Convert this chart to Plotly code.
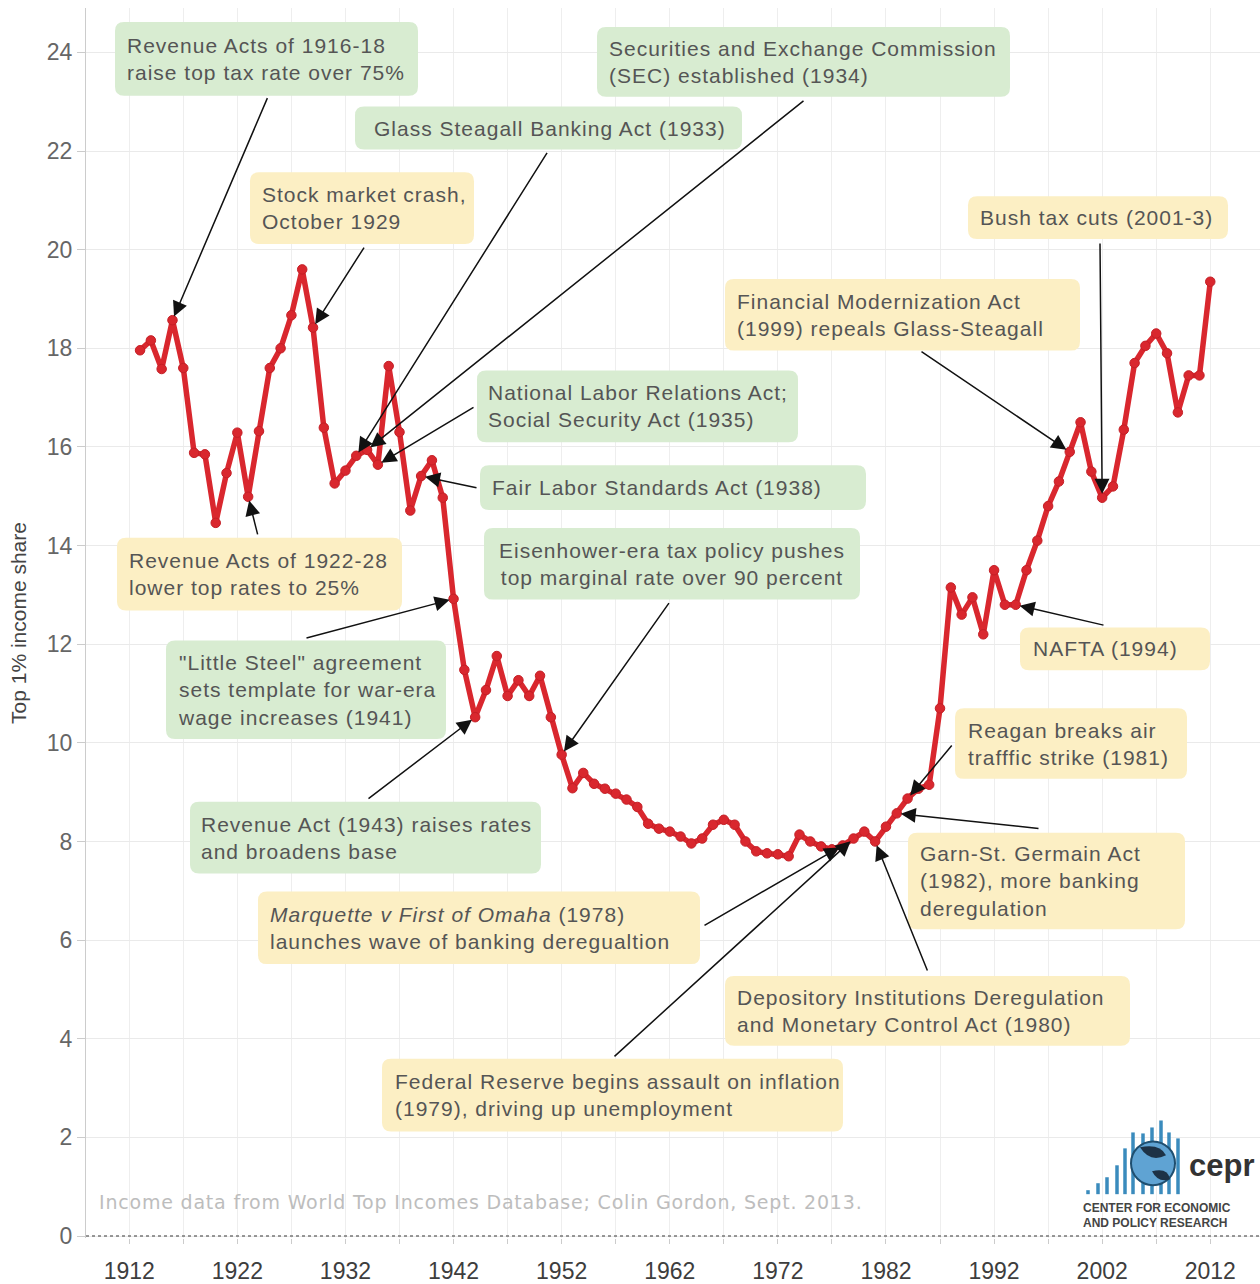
import plotly.graph_objects as go

# ---- data: top 1% income share (%), USA ----
years = list(range(1913, 2013))
top1_share = [
    17.96, 18.16, 17.58, 18.57, 17.60, 15.88, 15.85, 14.46, 15.47, 16.29,
    14.99, 16.32, 17.60, 18.00, 18.67, 19.60, 18.42, 16.39, 15.26, 15.52,
    15.82, 15.94, 15.64, 17.64, 16.30, 14.71, 15.41, 15.73, 14.97, 12.92,
    11.48, 10.52, 11.07, 11.76, 10.95, 11.27, 10.95, 11.36, 10.52, 9.76,
    9.08, 9.39, 9.17, 9.07, 8.97, 8.85, 8.70, 8.36, 8.26, 8.20,
    8.10, 7.96, 8.06, 8.34, 8.44, 8.34, 8.00, 7.80, 7.76, 7.74,
    7.70, 8.14, 8.00, 7.90, 7.84, 7.92, 8.06, 8.20, 8.00, 8.30,
    8.57, 8.87, 9.07, 9.15, 10.70, 13.15, 12.60, 12.95, 12.20, 13.50,
    12.80, 12.80, 13.50, 14.10, 14.80, 15.30, 15.90, 16.50, 15.50, 14.97,
    15.20, 16.35, 17.70, 18.05, 18.30, 17.90, 16.70, 17.45, 17.45, 19.35,
]
x_tick_years = list(range(1912, 2013, 10))
y_ticks = list(range(0, 25, 2))

# ---- canvas geometry ----
W, H = 1260, 1284
ML, MR, MT, MB = 86, 0, 8, 41
PW, PH = W - ML - MR, H - MT - MB
X_RANGE = [1908.0, 2016.6]
Y_RANGE = [-0.04, 24.9]


def px(x):
    return (x - ML) / PW


def py(y):
    return (H - MB - y) / PH


def to_xdata(x):
    return X_RANGE[0] + px(x) * (X_RANGE[1] - X_RANGE[0])


def to_ydata(y):
    return Y_RANGE[0] + py(y) * (Y_RANGE[1] - Y_RANGE[0])


def rounded_box(x0, y0, x1, y1, r=9):
    X = lambda v: f"{px(v):.5f}"
    Y = lambda v: f"{py(v):.5f}"
    return (f"M {X(x0 + r)},{Y(y0)} L {X(x1 - r)},{Y(y0)} Q {X(x1)},{Y(y0)} {X(x1)},{Y(y0 + r)} "
            f"L {X(x1)},{Y(y1 - r)} Q {X(x1)},{Y(y1)} {X(x1 - r)},{Y(y1)} L {X(x0 + r)},{Y(y1)} "
            f"Q {X(x0)},{Y(y1)} {X(x0)},{Y(y1 - r)} L {X(x0)},{Y(y0 + r)} Q {X(x0)},{Y(y0)} {X(x0 + r)},{Y(y0)} Z")


GREEN = "#d8ecd1"
YELLOW = "#fcefc4"
TEXT = "#555555"
SP = "letter-spacing:1px"


def spaced(*lines):
    return "<br>".join(f"<span style='{SP}'>{ln}</span>" for ln in lines)


# callouts: box (pixels), fill, text, text anchor x, alignment, event year, arrow tail (pixels)
notes = [
    ((115, 22, 418, 96), GREEN, spaced("Revenue Acts of 1916-18", "raise top tax rate over 75%"), 125, "left", 1916, (268, 97)),
    ((597, 27, 1010, 97), GREEN, spaced("Securities and Exchange Commission", "(SEC) established (1934)"), 607, "left", 1934, (805, 100)),
    ((355, 107, 742, 150), GREEN, spaced("Glass Steagall Banking Act (1933)"), 372, "left", 1933, (548, 152)),
    ((250, 173, 474, 245), YELLOW, spaced("Stock market crash,", "October 1929"), 260, "left", 1929, (365, 247)),
    ((968, 197, 1228, 240), YELLOW, spaced("Bush tax cuts (2001-3)"), 978, "left", 2002, (1100, 243)),
    ((725, 280, 1080, 352), YELLOW, spaced("Financial Modernization Act", "(1999) repeals Glass-Steagall"), 735, "left", 1999, (920, 352)),
    ((477, 372, 798, 444), GREEN, spaced("National Labor Relations Act;", "Social Security Act (1935)"), 486, "left", 1935, (475, 408)),
    ((480, 467, 866, 512), GREEN, spaced("Fair Labor Standards Act (1938)"), 490, "left", 1939, (478, 490)),
    ((117, 540, 402, 613), YELLOW, spaced("Revenue Acts of 1922-28", "lower top rates to 25%"), 127, "left", 1923, (258, 538)),
    ((484, 530, 860, 602), GREEN, spaced("Eisenhower-era tax policy pushes", "top marginal rate over 90 percent"), 672, "center", 1952, (670, 604)),
    ((166, 643, 446, 742), GREEN, spaced("\"Little Steel\" agreement", "sets template for war-era", "wage increases (1941)"), 176, "left", 1942, (305, 641)),
    ((1020, 630, 1210, 673), YELLOW, spaced("NAFTA (1994)"), 1031, "left", 1994, (1105, 628)),
    ((955, 711, 1187, 782), YELLOW, spaced("Reagan breaks air", "trafffic strike (1981)"), 966, "left", 1984, (953, 747)),
    ((190, 805, 541, 877), GREEN, spaced("Revenue Act (1943) raises rates", "and broadens base"), 199, "left", 1944, (367, 803)),
    ((908, 836, 1185, 933), YELLOW, spaced("Garn-St. Germain Act", "(1982), more banking", "deregulation"), 918, "left", 1983, (1040, 832)),
    ((258, 895, 700, 968), YELLOW, spaced("<i>Marquette v First of Omaha</i> (1978)", "launches wave of banking deregualtion"), 268, "left", 1978, (703, 930)),
    ((725, 980, 1130, 1050), YELLOW, spaced("Depository Institutions Deregulation", "and Monetary Control Act (1980)"), 735, "left", 1981, (928, 976)),
    ((382, 1063, 843, 1136), YELLOW, spaced("Federal Reserve begins assault on inflation", "(1979), driving up unemployment"), 393, "left", 1979, (613, 1062)),
]

fig = go.Figure()

fig.add_trace(go.Scatter(
    x=years, y=top1_share, mode="lines+markers",
    line=dict(color="#d9272e", width=5.5),
    marker=dict(color="#d9272e", size=9.5, line=dict(color="#c41f26", width=1)),
    hoverinfo="x+y", showlegend=False,
))

shapes = []
annotations = []

# dotted baseline at zero
shapes.append(dict(type="line", xref="paper", yref="y", x0=0, x1=1, y0=0, y1=0,
                   line=dict(color="#777777", width=1.5, dash="dot"), layer="above"))

for (x0, y0, x1, y1), fill, text, tx, align, yr, (tailx, taily) in notes:
    shapes.append(dict(type="path", xref="paper", yref="paper", path=rounded_box(x0, y0, x1, y1),
                       fillcolor=fill, line=dict(width=0), layer="above"))
    annotations.append(dict(
        xref="paper", yref="paper", x=px(tx), y=py((y0 + y1) / 2),
        xanchor="left" if align == "left" else "center", yanchor="middle",
        text=text, align=align, showarrow=False,
        font=dict(family="Liberation Sans, Arial", size=21, color=TEXT),
    ))
    annotations.append(dict(
        x=yr, y=top1_share[years.index(yr)], xref="x", yref="y",
        ax=to_xdata(tailx), ay=to_ydata(taily), axref="x", ayref="y",
        text="", showarrow=True, arrowhead=2, arrowsize=2.0, arrowwidth=1.5,
        arrowcolor="#111111", standoff=4,
    ))

# source line
annotations.append(dict(
    xref="paper", yref="paper", x=px(97), y=py(1207), xanchor="left", yanchor="middle",
    text="<span style='letter-spacing:0.8px'>Income data from World Top Incomes Database; Colin Gordon, Sept. 2013.</span>",
    showarrow=False, font=dict(family="DejaVu Sans", size=19, color="#bdbdbd"),
))

# CEPR logo
logo_bars_x = [1088, 1098, 1107, 1117, 1125, 1133, 1143, 1152, 1161, 1169, 1178]
logo_bars_top = [1195, 1188, 1182, 1170, 1153, 1137, 1138, 1132, 1125, 1137, 1143]
for bx, bt in zip(logo_bars_x, logo_bars_top):
    shapes.append(dict(type="line", xref="paper", yref="paper",
                       x0=px(bx), x1=px(bx), y0=py(1199), y1=py(bt),
                       line=dict(color="#3a8bbd", width=3.5), layer="above"))
shapes.append(dict(type="circle", xref="paper", yref="paper",
                   x0=px(1131), x1=px(1175), y0=py(1190), y1=py(1146),
                   fillcolor="#5fa3d3", line=dict(color="#1f4f70", width=2), layer="above"))
shapes.append(dict(type="path", xref="paper", yref="paper",
                   path=(f"M {px(1140)},{py(1152)} Q {px(1160)},{py(1148)} {px(1166)},{py(1160)} "
                         f"Q {px(1150)},{py(1168)} {px(1140)},{py(1152)} Z"),
                   fillcolor="#1d3246", line=dict(width=0), layer="above"))
shapes.append(dict(type="path", xref="paper", yref="paper",
                   path=(f"M {px(1152)},{py(1176)} Q {px(1168)},{py(1172)} {px(1170)},{py(1184)} "
                         f"Q {px(1158)},{py(1188)} {px(1152)},{py(1176)} Z"),
                   fillcolor="#1d3246", line=dict(width=0), layer="above"))
annotations.append(dict(xref="paper", yref="paper", x=px(1221), y=py(1170), xanchor="center", yanchor="middle",
                        text="<b>cepr</b>", showarrow=False,
                        font=dict(family="Liberation Sans, Arial", size=31, color="#333333")))
annotations.append(dict(xref="paper", yref="paper", x=px(1157), y=py(1213), xanchor="center", yanchor="middle",
                        text="<b>CENTER FOR ECONOMIC</b>", showarrow=False,
                        font=dict(family="Liberation Sans Narrow, Liberation Sans", size=12, color="#444444")))
annotations.append(dict(xref="paper", yref="paper", x=px(1155), y=py(1228), xanchor="center", yanchor="middle",
                        text="<b>AND POLICY RESEARCH</b>", showarrow=False,
                        font=dict(family="Liberation Sans Narrow, Liberation Sans", size=12, color="#444444")))

fig.update_layout(
    width=W, height=H,
    margin=dict(l=ML, r=MR, t=MT, b=MB),
    paper_bgcolor="white", plot_bgcolor="white",
    shapes=shapes, annotations=annotations,
    showlegend=False,
    xaxis=dict(
        range=X_RANGE, tickmode="array", tickvals=x_tick_years,
        ticktext=[str(y) for y in x_tick_years],
        showgrid=True, gridcolor="#eeeeee", gridwidth=1,
        minor=dict(dtick=5, tick0=1912, showgrid=True, gridcolor="#eeeeee",
                   ticks="outside", ticklen=5, tickcolor="#cccccc"),
        ticks="outside", ticklen=5, tickcolor="#cccccc",
        showline=False, zeroline=False,
        tickfont=dict(family="Liberation Sans Narrow, Liberation Sans", size=23, color="#3d3d3d"),
        ticklabelstandoff=7,
    ),
    yaxis=dict(
        range=Y_RANGE, tickmode="array", tickvals=y_ticks,
        showgrid=True, gridcolor="#eaeaea", gridwidth=1,
        ticks="outside", ticklen=8, tickcolor="#cccccc",
        showline=True, linecolor="#cccccc", linewidth=1,
        zeroline=False,
        tickfont=dict(family="Liberation Sans, Arial", size=23, color="#666666"),
        title=dict(text="Top 1% income share", standoff=14,
                   font=dict(family="Liberation Sans Narrow, Liberation Sans", size=21, color="#444444")),
    ),
)

fig.write_html("out.html")
